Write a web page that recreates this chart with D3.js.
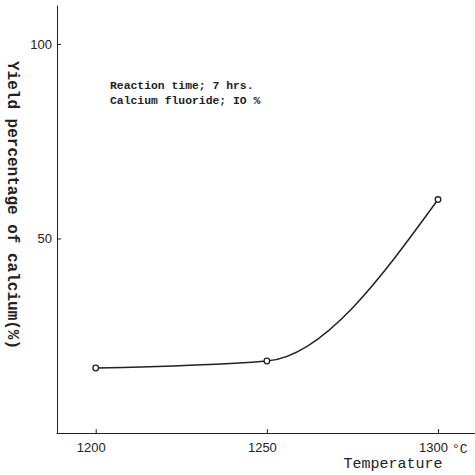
<!DOCTYPE html>
<html>
<head>
<meta charset="utf-8">
<script src="https://cdn.jsdelivr.net/npm/d3@7"></script>
<style>
  body { margin: 0; background: #fff; }
  svg { display: block; }
  .tick text { font-family: "Liberation Sans", sans-serif; font-size: 13px; fill: #222; }
  .domain, .tick line { stroke: #222; }
  .mono { font-family: "Liberation Mono", "DejaVu Sans Mono", monospace; fill: #222; }
</style>
</head>
<body>
<div class="chart"></div>
<script>
var temps = [1200, 1250, 1300];
var yields = [16.7, 18.5, 60];
var xTicks = [1200, 1250, 1300];
var yTicks = [50, 100];
var notes = ["Reaction time; 7 hrs.", "Calcium fluoride; IO %"];

var svgWidth = 475;
var svgHeight = 475;

var svg = d3.select(".chart")
  .append("svg")
  .attr("width", svgWidth)
  .attr("height", svgHeight);

var xScale = d3.scaleLinear()
  .domain([1188.4, 1310.8])
  .range([56, 475]);

var yScale = d3.scaleLinear()
  .domain([0, 110])
  .range([433, 5]);

// x axis, ticks pointing up
svg.append("g")
  .attr("transform", "translate(0,433)")
  .call(d3.axisBottom(xScale).tickValues(xTicks).tickFormat(d3.format("d"))
    .tickSize(-4).tickSizeOuter(0).tickPadding(10))
  .call(function(g) { g.selectAll(".tick text").attr("dx", "-5"); });

// y axis, ticks pointing right
svg.append("g")
  .attr("transform", "translate(57,0)")
  .call(d3.axisLeft(yScale).tickValues(yTicks).tickSize(-4).tickSizeOuter(0).tickPadding(5));

var pts = temps.map(function(t, i) { return [t, yields[i]]; });

var line = d3.line()
  .x(function(d) { return xScale(d[0]); })
  .y(function(d) { return yScale(d[1]); })
  .curve(d3.curveMonotoneX);

svg.append("path")
  .datum(pts)
  .attr("d", line)
  .attr("fill", "none")
  .attr("stroke", "#222")
  .attr("stroke-width", 1.5);

svg.selectAll("circle")
  .data(pts)
  .enter().append("circle")
    .attr("cx", function(d) { return xScale(d[0]); })
    .attr("cy", function(d) { return yScale(d[1]); })
    .attr("r", 2.8)
    .attr("fill", "#fff")
    .attr("stroke", "#222")
    .attr("stroke-width", 1.3);

svg.selectAll(".note")
  .data(notes)
  .enter().append("text")
    .attr("class", "mono note")
    .attr("x", 110)
    .attr("y", function(d, i) { return 89 + i * 15; })
    .attr("font-size", "11.4px")
    .attr("font-weight", "bold")
    .text(function(d) { return d; });

svg.append("text")
  .attr("class", "mono")
  .attr("x", 452)
  .attr("y", 453)
  .attr("font-size", "13px")
  .text("°C");

svg.append("text")
  .attr("class", "mono")
  .attr("x", 393)
  .attr("y", 468)
  .attr("text-anchor", "middle")
  .attr("font-size", "15px")
  .text("Temperature");

svg.append("text")
  .attr("class", "mono")
  .attr("transform", "translate(8,205) rotate(90)")
  .attr("text-anchor", "middle")
  .attr("font-size", "16px")
  .attr("font-weight", "bold")
  .text("Yield percentage of calcium(%)");
</script>
</body>
</html>
